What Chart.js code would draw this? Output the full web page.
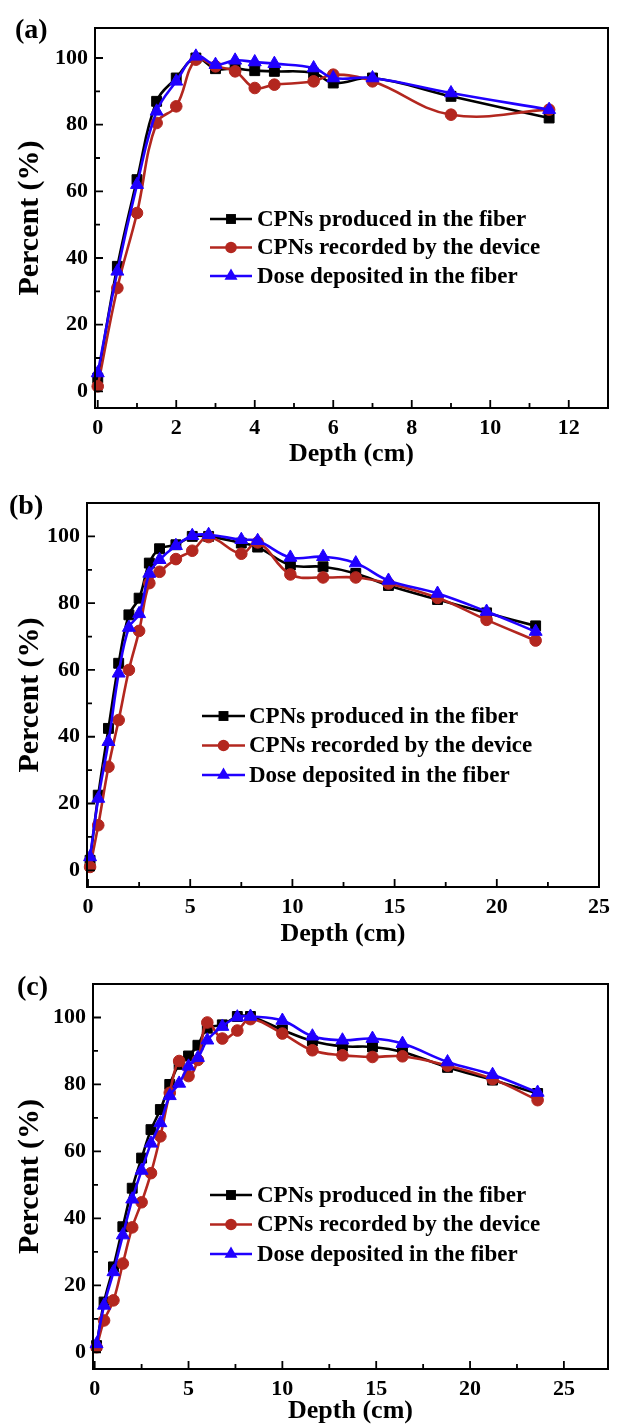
<!DOCTYPE html>
<html><head><meta charset="utf-8">
<script src="https://cdn.jsdelivr.net/npm/chart.js@4.4.1/dist/chart.umd.min.js"></script>
<style>
html,body{margin:0;padding:0;background:#fff;width:617px;height:1427px;overflow:hidden;position:relative}
.panel{position:absolute;left:0;width:617px}
.panel canvas{display:block}
.lab{position:absolute;font-family:"Liberation Serif","Times New Roman",serif;font-weight:bold;font-size:28px;line-height:28px;color:#000;white-space:nowrap}
</style></head><body>
<div class="panel" style="top:0px;height:470px"><canvas id="ca" width="617" height="470"></canvas></div>
<div class="panel" style="top:470px;height:480px"><canvas id="cb" width="617" height="480"></canvas></div>
<div class="panel" style="top:950px;height:477px"><canvas id="cc" width="617" height="477"></canvas></div>
<div class="lab" style="left:15px;top:15px">(a)</div>
<div class="lab" style="left:9px;top:491px">(b)</div>
<div class="lab" style="left:17px;top:972px">(c)</div>
<script>
// ---------- data ----------
const seriesLabels = ['CPNs produced in the fiber', 'CPNs recorded by the device', 'Dose deposited in the fiber'];
const xTitle = 'Depth (cm)';
const yTitle = 'Percent (%)';

// panel (a)
const depthA    = [0, 0.5, 1, 1.5, 2, 2.5, 3, 3.5, 4, 4.5, 5.5, 6, 7, 9, 11.5];
const producedA = [4, 37.5, 63.5, 87, 94, 100, 96.8, 96.8, 96.2, 96, 95.5, 92.5, 94, 88.5, 82];
const recordedA = [1.5, 31, 53.5, 80.5, 85.5, 99.5, 97.5, 96, 91, 92, 93, 95, 93, 83, 84.5];
const doseA     = [5.5, 36, 62, 84, 93, 100.5, 98, 99.3, 98.8, 98.3, 97, 94, 94, 89.5, 84.5];
const xTicksA = [0, 2, 4, 6, 8, 10, 12];
const xMinorA = [1, 3, 5, 7, 9, 11];

// panel (b)
const depthB    = [0.1, 0.5, 1, 1.5, 2, 2.5, 3, 3.5, 4.3, 5.1, 5.9, 7.5, 8.3, 9.9, 11.5, 13.1, 14.7, 17.1, 19.5, 21.9];
const producedB = [3, 22.5, 42.5, 62, 76.5, 81.5, 92, 96.3, 97.5, 100, 100, 98, 96.8, 91.4, 90.9, 88.9, 85.3, 81.1, 77.1, 73.2];
const recordedB = [1, 13.5, 31, 45, 60, 71.7, 86, 89.4, 93.2, 95.7, 99.8, 94.8, 98.2, 88.6, 87.7, 87.7, 85.9, 81.6, 75, 68.8];
const doseB     = [4, 21.5, 38.5, 59, 72.7, 76.8, 88.9, 93, 97.2, 100.2, 100.5, 99, 98.7, 93.7, 93.9, 92, 86.8, 82.9, 77.5, 71.5];
const xTicksB = [0, 5, 10, 15, 20, 25];
const xMinorB = [2.5, 7.5, 12.5, 17.5, 22.5];

// panel (c)
const depthC    = [0.1, 0.5, 1, 1.5, 2, 2.5, 3, 3.5, 4, 4.5, 5, 5.5, 6, 6.8, 7.6, 8.3, 10, 11.6, 13.2, 14.8, 16.4, 18.8, 21.2, 23.6];
const producedC = [2, 15, 25.5, 37.5, 49, 58, 66.5, 72.5, 80, 86, 88.5, 91.7, 96.8, 97.8, 100.3, 100.3, 96.3, 93, 91.4, 91.2, 89.7, 85.1, 81.3, 77.3];
const recordedC = [1.5, 9.5, 15.5, 26.5, 37.3, 44.8, 53.5, 64.5, 77.5, 87, 82.5, 87.3, 98.5, 93.7, 96.1, 99.5, 95.2, 90.2, 88.7, 88.2, 88.4, 85.6, 81.6, 75.3];
const doseC     = [2.5, 14, 24, 35, 45.7, 54.3, 62.4, 68.5, 76.6, 80.3, 85.4, 88, 93.2, 97.3, 100.1, 100.3, 99.1, 94.4, 93.2, 93.7, 92.2, 86.7, 82.9, 77.6];
const xTicksC = [0, 5, 10, 15, 20, 25];
const xMinorC = [2.5, 7.5, 12.5, 17.5, 22.5];

const yTicks = [0, 20, 40, 60, 80, 100];
const yMinor = [10, 30, 50, 70, 90];

// ---------- styling ----------
const SERIF = '"Liberation Serif", "Times New Roman", serif';
Chart.defaults.font.family = SERIF;
Chart.defaults.color = '#000';
const COLORS = ['#000000', '#b3271f', '#2000ff'];
const STYLES = ['rect', 'circle', 'triangle'];
const RADII = [7, 5.8, 7.5];

function drawMarker(ctx, style, r, cx, cy, color) {
  ctx.save();
  ctx.fillStyle = color;
  ctx.beginPath();
  if (style === 'rect') {
    const s = r * Math.SQRT1_2;
    ctx.rect(cx - s, cy - s, 2 * s, 2 * s);
  } else if (style === 'circle') {
    ctx.arc(cx, cy, r, 0, Math.PI * 2);
  } else {
    ctx.moveTo(cx, cy - r);
    ctx.lineTo(cx + r * 0.866, cy + r * 0.5);
    ctx.lineTo(cx - r * 0.866, cy + r * 0.5);
    ctx.closePath();
  }
  ctx.fill();
  ctx.restore();
}

const framePlugin = {
  id: 'frameTicks',
  afterDraw(chart, args, o) {
    const {ctx, chartArea: a} = chart;
    const xs = chart.scales.x, ys = chart.scales.y;
    ctx.save();
    ctx.strokeStyle = '#000';
    ctx.lineWidth = 2;
    ctx.strokeRect(a.left, a.top, a.right - a.left, a.bottom - a.top);
    ctx.lineWidth = 1.8;
    ctx.beginPath();
    o.xMajor.forEach(v => { const p = xs.getPixelForValue(v); ctx.moveTo(p, a.bottom); ctx.lineTo(p, a.bottom - 8); });
    o.xMinor.forEach(v => { const p = xs.getPixelForValue(v); ctx.moveTo(p, a.bottom); ctx.lineTo(p, a.bottom - 5); });
    o.yMajor.forEach(v => { const p = ys.getPixelForValue(v); ctx.moveTo(a.left, p); ctx.lineTo(a.left + 8, p); });
    o.yMinor.forEach(v => { const p = ys.getPixelForValue(v); ctx.moveTo(a.left, p); ctx.lineTo(a.left + 5, p); });
    ctx.stroke();
    // legend
    const L = o.legend;
    chart.data.datasets.slice().sort((p, q) => p.legendIndex - q.legendIndex).forEach((ds, i) => {
      const cy = L.y0 + i * L.dy;
      ctx.strokeStyle = ds.borderColor;
      ctx.lineWidth = 2.6;
      ctx.beginPath(); ctx.moveTo(L.x0, cy); ctx.lineTo(L.x1, cy); ctx.stroke();
      drawMarker(ctx, ds.pointStyle, ds.pointRadius, (L.x0 + L.x1) / 2, cy, ds.borderColor);
      ctx.fillStyle = '#000';
      ctx.font = 'bold 23px ' + SERIF;
      ctx.textAlign = 'left';
      ctx.textBaseline = 'middle';
      ctx.fillText(ds.label, L.tx, cy + 1);
    });
    ctx.restore();
  }
};

function makeChart(id, geo, depth, series, xTicks, xMinor) {
  const canvas = document.getElementById(id);
  const H = canvas.height, W = canvas.width;
  const datasets = series.map((vals, i) => ({
    label: seriesLabels[i],
    legendIndex: i,
    data: depth.map((x, j) => ({x: x, y: vals[j]})),
    borderColor: COLORS[i],
    backgroundColor: COLORS[i],
    pointBackgroundColor: COLORS[i],
    pointBorderColor: COLORS[i],
    pointBorderWidth: 1,
    pointStyle: STYLES[i],
    pointRadius: RADII[i],
    borderWidth: 2.6,
    tension: 0.4,
    clip: false,
    order: 3 - i
  }));
  return new Chart(canvas, {
    type: 'line',
    data: {datasets},
    plugins: [framePlugin],
    options: {
      responsive: false,
      animation: false,
      devicePixelRatio: 1,
      layout: {padding: {left: 0, top: geo.top, right: W - geo.right, bottom: 0}},
      plugins: {
        legend: {display: false},
        tooltip: {enabled: false},
        frameTicks: {xMajor: xTicks, xMinor: xMinor, yMajor: yTicks, yMinor: yMinor, legend: geo.legend}
      },
      scales: {
        x: {
          type: 'linear', position: 'bottom', min: geo.xmin, max: geo.xmax,
          grid: {display: false, drawTicks: false}, border: {display: false},
          afterBuildTicks: s => { s.ticks = xTicks.map(v => ({value: v})); },
          afterFit: s => { s.height = H - geo.bottom; },
          ticks: {autoSkip: false, maxRotation: 0, padding: 7, font: {size: 22, weight: 'bold'}, color: '#000'},
          title: {display: true, text: xTitle, font: {size: 26, weight: 'bold'}, color: '#000', padding: {top: 0, bottom: 0}}
        },
        y: {
          type: 'linear', position: 'left', min: geo.ymin, max: geo.ymax,
          grid: {display: false, drawTicks: false}, border: {display: false},
          afterBuildTicks: s => { s.ticks = yTicks.map(v => ({value: v})); },
          afterFit: s => { s.width = geo.left; },
          ticks: {autoSkip: false, padding: 7, font: {size: 22, weight: 'bold'}, color: '#000'},
          title: {display: true, text: yTitle, font: {size: 30, weight: 'bold'}, color: '#000', padding: {top: 12, bottom: 0}}
        }
      }
    }
  });
}

makeChart('ca', {left: 95, right: 608, top: 28, bottom: 408, xmin: -0.07, xmax: 13, ymin: -5, ymax: 109,
  legend: {x0: 210, x1: 252, tx: 257, y0: 219, dy: 28.5}},
  depthA, [producedA, recordedA, doseA], xTicksA, xMinorA);
makeChart('cb', {left: 87, right: 604, top: 33, bottom: 417, xmin: -0.05, xmax: 25, ymin: -5, ymax: 110,
  legend: {x0: 202, x1: 245, tx: 249, y0: 246, dy: 29.5}},
  depthB, [producedB, recordedB, doseB], xTicksB, xMinorB);
makeChart('cc', {left: 93, right: 608, top: 34, bottom: 419, xmin: -0.09, xmax: 27.35, ymin: -5, ymax: 110,
  legend: {x0: 210, x1: 252, tx: 257, y0: 245, dy: 29.5}},
  depthC, [producedC, recordedC, doseC], xTicksC, xMinorC);
</script>
</body></html>
